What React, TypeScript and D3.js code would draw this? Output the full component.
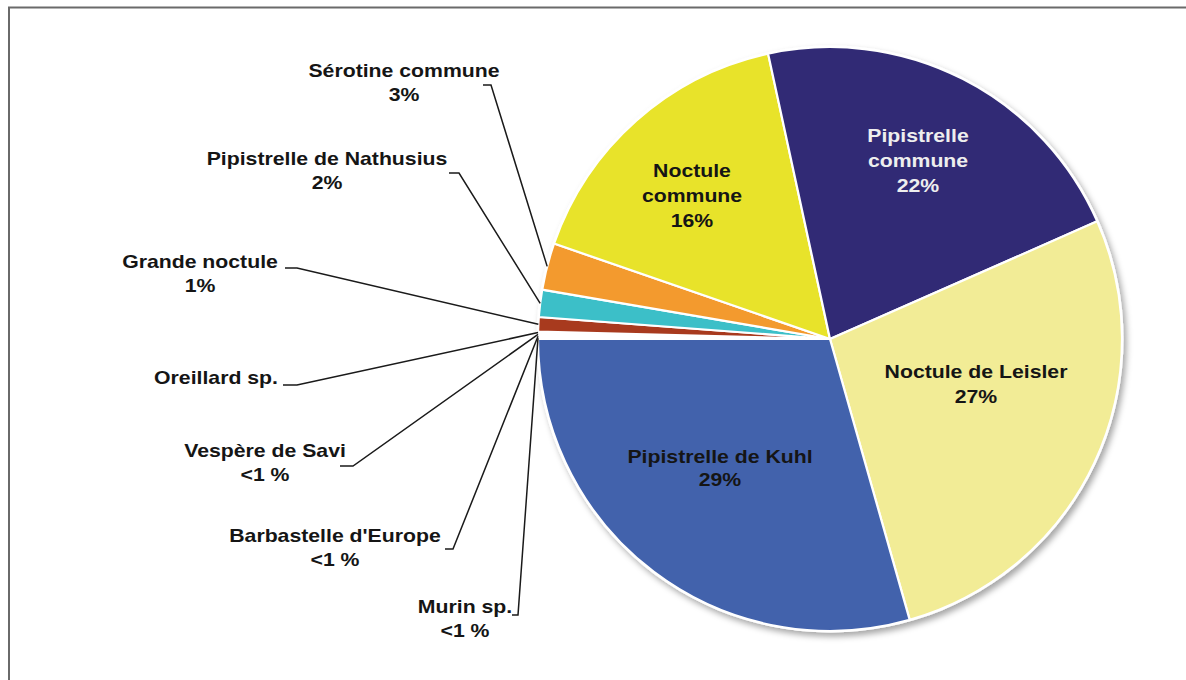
import React from "react";
import * as d3 from "d3";

// ---- data (clockwise from 9 o'clock) ----
const species = [
  "Murin sp.",
  "Barbastelle d'Europe",
  "Vespère de Savi",
  "Oreillard sp.",
  "Grande noctule",
  "Pipistrelle de Nathusius",
  "Sérotine commune",
  "Noctule commune",
  "Pipistrelle commune",
  "Noctule de Leisler",
  "Pipistrelle de Kuhl",
];
const shares = [0.1, 0.1, 0.1, 0.1, 0.8, 1.5, 2.6, 16.3, 21.8, 27.2, 29.4];
const showPct = [true, true, true, false, true, true, true, true, true, true, true];
const sliceColors = [
  "#f4f4f8", "#f4f4f8", "#f4f4f8", "#f4f4f8",
  "#a83a1e", "#3cbfc8", "#f39a2e", "#e8e32a", "#312a75", "#f2ec96", "#4262ac",
];

// ---- layout ----
const W = 1186, H = 680;
const CX = 830, CY = 339, R = 292;
const FONT = "'Liberation Sans', Arial, Helvetica, sans-serif";
const SX = 1.18;

// outside labels: text centre, first baseline, elbow [x1, x2, y]
const outside: Record<string, { x: number; y: number; e: [number, number, number] }> = {
  "Murin sp.": { x: 465, y: 613, e: [512, 518, 615] },
  "Barbastelle d'Europe": { x: 335, y: 542, e: [445, 453, 549] },
  "Vespère de Savi": { x: 265, y: 457, e: [340, 353, 466] },
  "Oreillard sp.": { x: 216, y: 384, e: [283, 297, 385] },
  "Grande noctule": { x: 200, y: 268, e: [285, 297, 268] },
  "Pipistrelle de Nathusius": { x: 327, y: 165, e: [449, 459, 173] },
  "Sérotine commune": { x: 404, y: 77, e: [483, 491, 85] },
};
const inside: Record<string, { x: number; y: number; lh: number; lines: string[]; fill: string }> = {
  "Noctule commune": { x: 692, y: 177, lh: 25, lines: ["Noctule", "commune"], fill: "#151515" },
  "Pipistrelle commune": { x: 918, y: 142, lh: 25, lines: ["Pipistrelle", "commune"], fill: "#eeeeee" },
  "Noctule de Leisler": { x: 976, y: 378, lh: 25, lines: ["Noctule de Leisler"], fill: "#151515" },
  "Pipistrelle de Kuhl": { x: 720, y: 463, lh: 23, lines: ["Pipistrelle de Kuhl"], fill: "#151515" },
};

const pctText = (v: number) => (v < 0.5 ? "<1 %" : `${Math.round(v)}%`);

function Txt({ x, y, children, fill = "#151515" }: { x: number; y: number; children: React.ReactNode; fill?: string }) {
  return (
    <text
      transform={`translate(${x},${y}) scale(${SX},1)`}
      textAnchor="middle"
      fontFamily={FONT}
      fontWeight="bold"
      fontSize={18}
      fill={fill}
    >
      {children}
    </text>
  );
}

export default function App() {
  const data = species.map((name, i) => ({ name, value: shares[i], color: sliceColors[i], pct: showPct[i] }));
  const pie = d3
    .pie<any>()
    .value((d) => d.value)
    .sort(null)
    .startAngle(-Math.PI / 2)
    .endAngle((3 * Math.PI) / 2);
  const arcs = pie(data);
  const arc = d3.arc<any>().innerRadius(0).outerRadius(R);

  return (
    <svg width={W} height={H} style={{ position: "absolute", left: 0, top: 0, background: "#fff" }}>
      <defs>
        <filter id="sh" x="-20%" y="-20%" width="140%" height="140%">
          <feDropShadow dx={3} dy={4} stdDeviation={3} floodColor="#000" floodOpacity={0.35} />
        </filter>
      </defs>
      <rect x={0} y={0} width={W} height={H} fill="#fff" />
      <rect x={9} y={7.5} width={W + 20} height={H + 20} fill="none" stroke="#6a6a6a" strokeWidth={2} />

      <g transform={`translate(${CX},${CY})`}>
        <circle r={R + 1.5} fill="#fff" filter="url(#sh)" />
        {arcs.map((a, i) => (
          <path key={i} d={arc(a) as string} fill={a.data.color} stroke="#fff" strokeWidth={2.2} strokeLinejoin="round" />
        ))}
      </g>

      {arcs.map((a, i) => {
        const L = outside[a.data.name];
        if (!L) return null;
        const mid = (a.startAngle + a.endAngle) / 2;
        const px = CX + R * Math.sin(mid);
        const py = CY - R * Math.cos(mid);
        const [x1, x2, ey] = L.e;
        return (
          <g key={"o" + i}>
            <polyline
              points={`${x1},${ey} ${x2},${ey} ${px},${py}`}
              fill="none"
              stroke="#1a1a1a"
              strokeWidth={1.5}
            />
            <Txt x={L.x} y={L.y}>{a.data.name}</Txt>
            {a.data.pct && <Txt x={L.x} y={L.y + 24}>{pctText(a.data.value)}</Txt>}
          </g>
        );
      })}

      {arcs.map((a, i) => {
        const L = inside[a.data.name];
        if (!L) return null;
        return (
          <g key={"i" + i}>
            {L.lines.map((t, j) => (
              <Txt key={j} x={L.x} y={L.y + j * L.lh} fill={L.fill}>{t}</Txt>
            ))}
            <Txt x={L.x} y={L.y + L.lines.length * L.lh} fill={L.fill}>{pctText(a.data.value)}</Txt>
          </g>
        );
      })}
    </svg>
  );
}
